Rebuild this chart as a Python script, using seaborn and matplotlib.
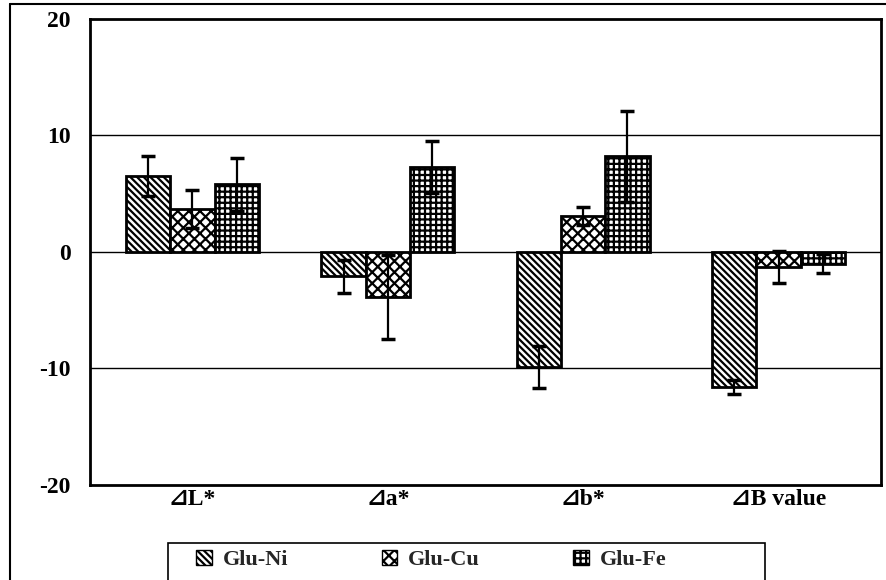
import numpy as np
import pandas as pd
import seaborn as sns
import matplotlib.pyplot as plt
from matplotlib.patches import Patch, Rectangle
from matplotlib.lines import Line2D

# data
params = ["⊿L*", "⊿a*", "⊿b*", "⊿B value"]
groups = ["Glu-Ni", "Glu-Cu", "Glu-Fe"]
ni = [6.5, -2.1, -9.9, -11.6]
cu = [3.7, -3.9, 3.1, -1.3]
fe = [5.8, 7.3, 8.2, -1.0]
ni_err = [1.7, 1.4, 1.8, 0.6]
cu_err = [1.6, 3.6, 0.8, 1.4]
fe_err = [2.3, 2.2, 3.9, 0.8]

df = pd.DataFrame({
    "param": params * 3,
    "group": [g for g in groups for _ in params],
    "value": ni + cu + fe,
    "err": ni_err + cu_err + fe_err,
})

sns.set_theme(style="white")
plt.rcParams["font.family"] = ["Liberation Serif", "DejaVu Serif", "DejaVu Sans"]
plt.rcParams["font.weight"] = "bold"
plt.rcParams["hatch.linewidth"] = 1.6

fig = plt.figure(figsize=(8.87, 5.80), dpi=100)
ax = fig.add_axes([90 / 887, 1 - 485 / 580, 791 / 887, 466 / 580])

sns.barplot(data=df, x="param", y="value", hue="group", order=params,
            hue_order=groups, palette=["white"] * 3, edgecolor="black",
            linewidth=2, width=0.68, errorbar=None, legend=False, ax=ax,
            zorder=3)

hatches = {"Glu-Ni": "\\\\\\\\\\", "Glu-Cu": "xxx", "Glu-Fe": "+++"}
for cont, g in zip(ax.containers, groups):
    sub = df[df.group == g].set_index("param").loc[params]
    for bar, v, e in zip(cont, sub["value"], sub["err"]):
        bar.set_hatch(hatches[g])
        x = bar.get_x() + bar.get_width() / 2
        ax.errorbar(x, v, yerr=e, color="black", lw=1.6, capsize=5,
                    capthick=2.5, zorder=4)

ax.set_ylim(-20, 20)
ax.set_yticks([-20, -10, 0, 10, 20])
ax.set_yticklabels(["-20", "-10", "0", "10", "20"], fontsize=17, fontweight="bold")
ax.set_xticks(range(len(params)))
ax.set_xticklabels(params, fontsize=17, fontweight="bold")
ax.tick_params(axis="y", length=0, pad=14, colors="black")
ax.tick_params(axis="x", length=0, pad=3, colors="black")
ax.set_xlabel("")
ax.set_ylabel("")
for y in [-10, 0, 10]:
    ax.axhline(y, color="black", lw=1, zorder=1)
for s in ax.spines.values():
    s.set_color("black")
    s.set_linewidth(2)

# outer frame of the figure
fig.add_artist(Line2D([10 / 887, 10 / 887], [0, 1 - 4 / 580], color="black", lw=1.5, transform=fig.transFigure))
fig.add_artist(Line2D([10 / 887, 1], [1 - 4 / 580, 1 - 4 / 580], color="black", lw=1.5, transform=fig.transFigure))

# legend box runs off the bottom of the picture
fig.add_artist(Rectangle((168 / 887, -0.05), 597 / 887, 0.05 + 1 - 543 / 580,
                         transform=fig.transFigure, facecolor="white",
                         edgecolor="black", lw=1.2))
handles = [Patch(facecolor="white", edgecolor="black", hatch=hatches[g], label=g) for g in groups]
leg = fig.legend(handles=handles, loc="center left", ncol=3,
                 bbox_to_anchor=(196 / 887, 1 - 560 / 580),
                 frameon=False, prop={"size": 16, "weight": "bold"},
                 handlelength=0.7, handleheight=0.7, handletextpad=0.5,
                 columnspacing=4.2, borderaxespad=0, borderpad=0)

fig.savefig("out.png", dpi=100)
